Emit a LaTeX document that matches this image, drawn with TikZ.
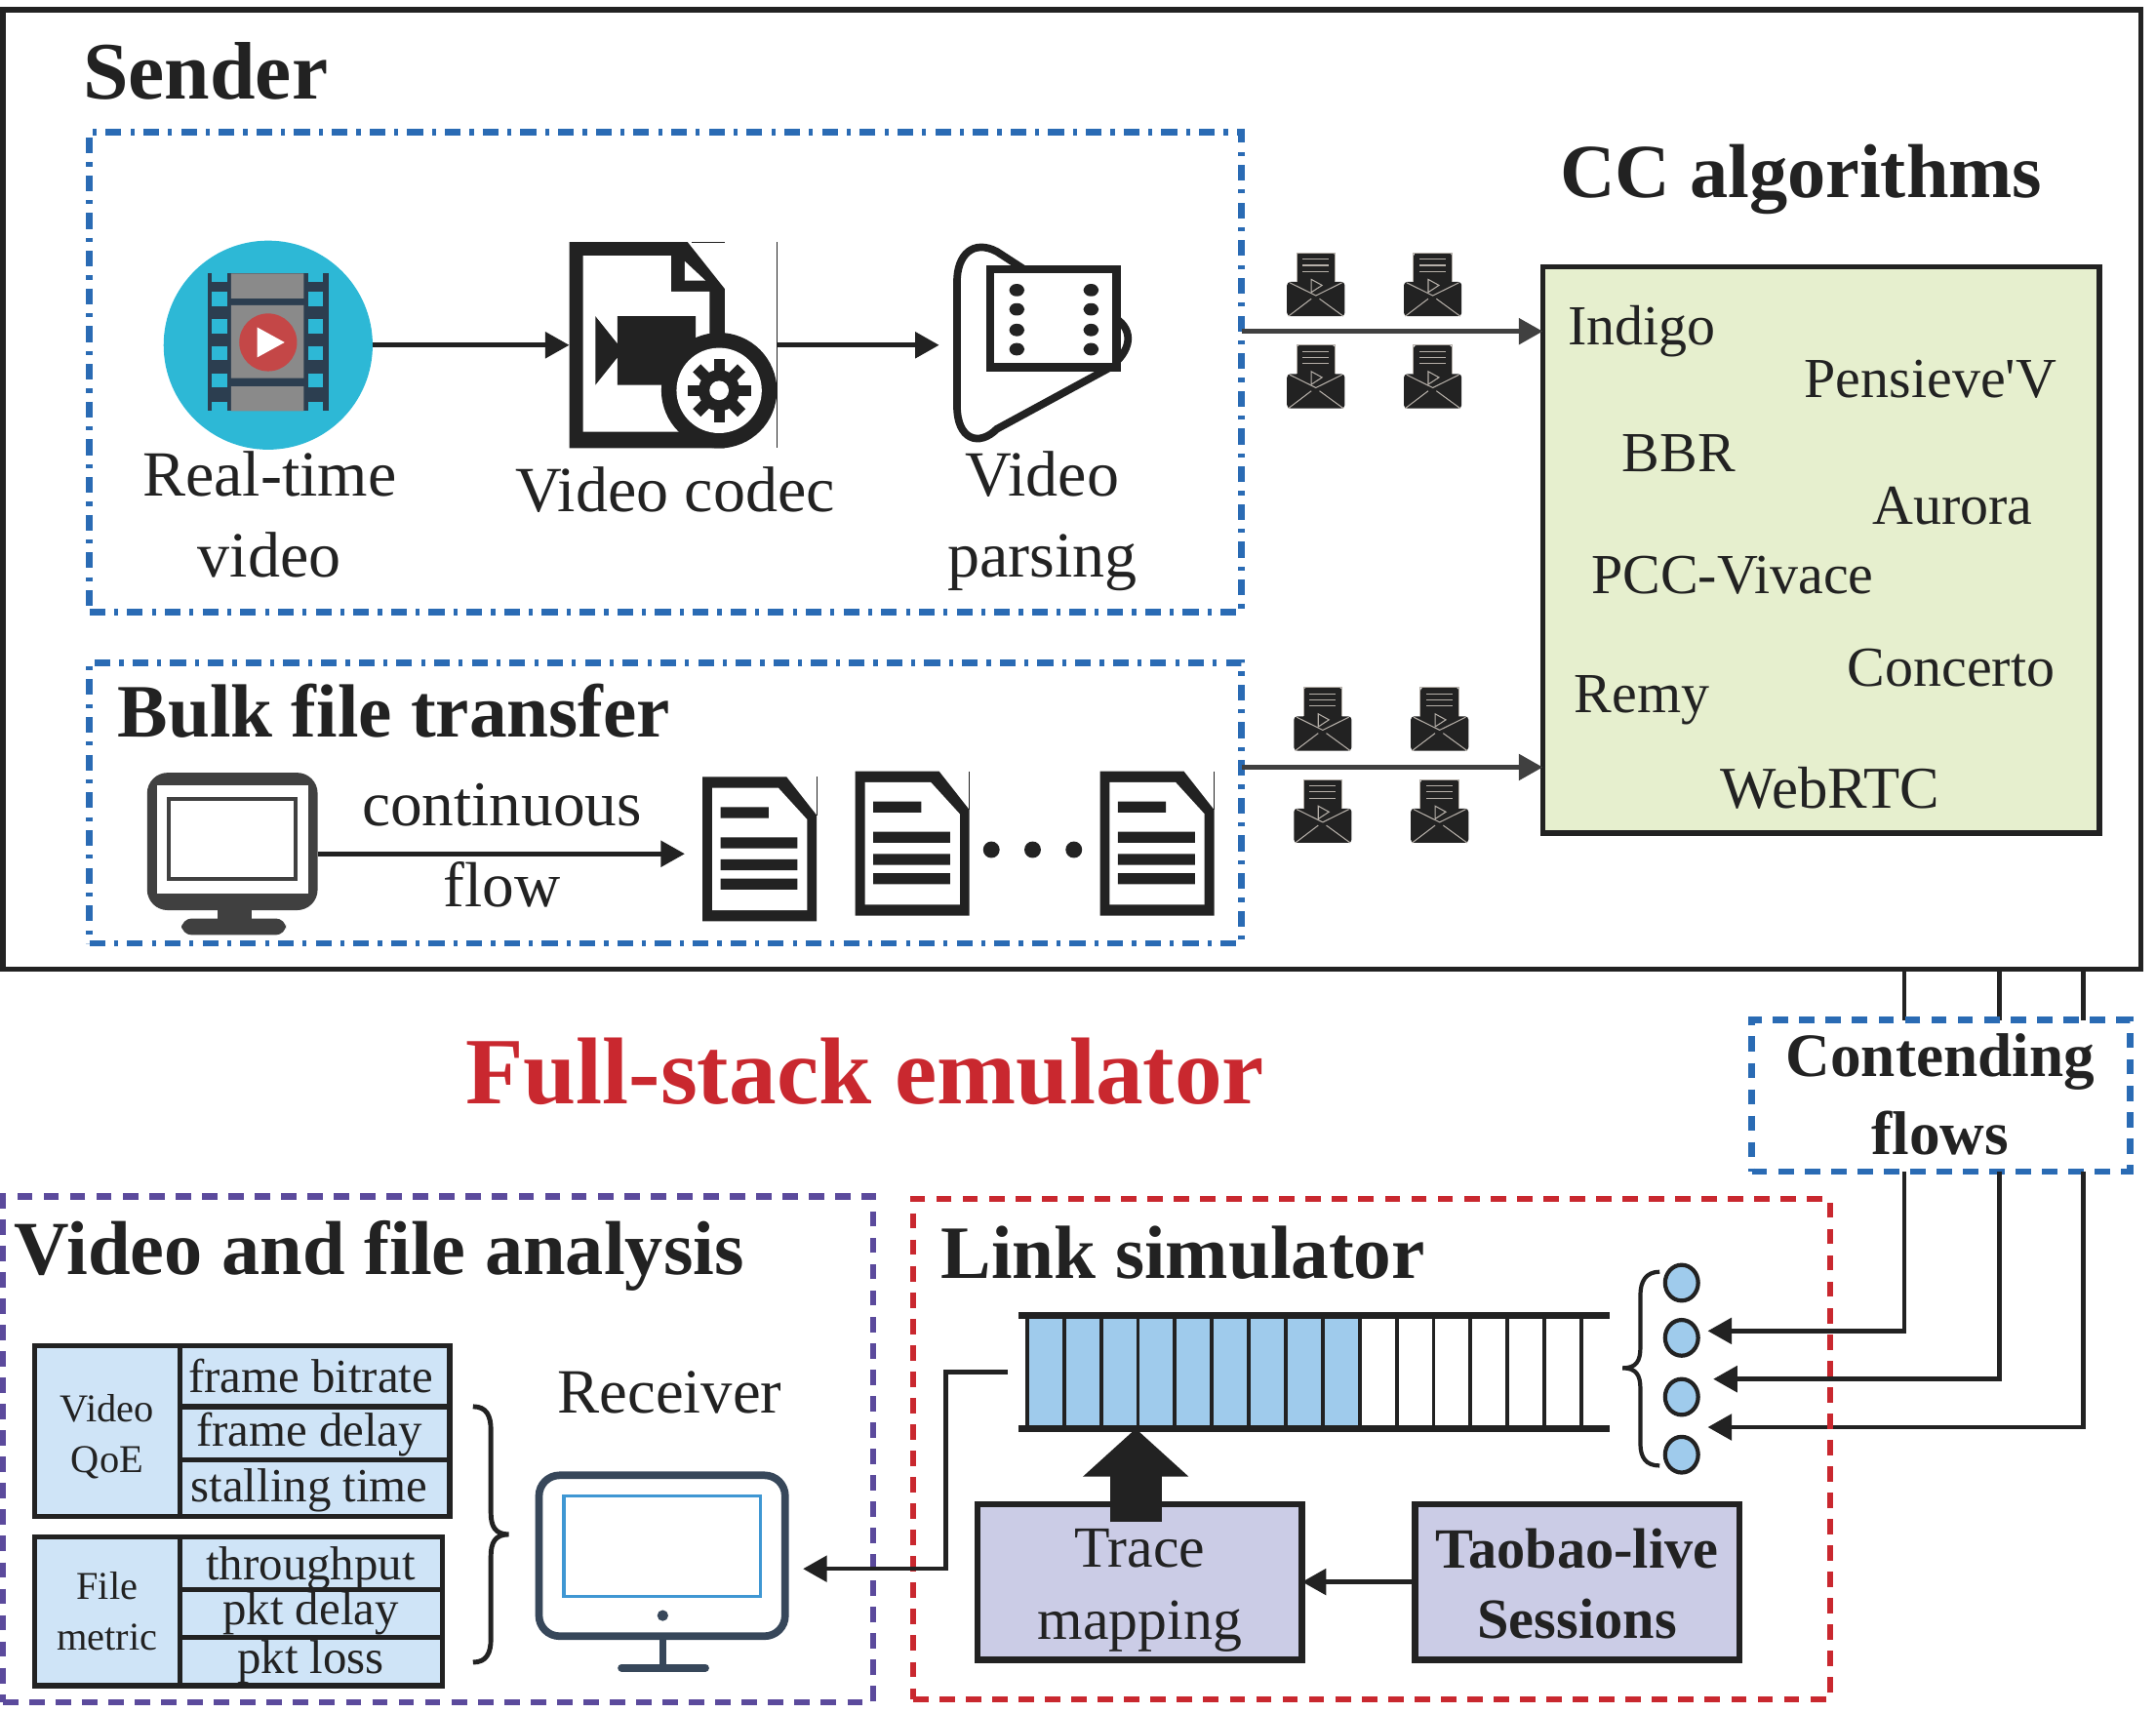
\documentclass[tikz,border=0pt]{standalone}
\usepackage{fontspec}
\setmainfont{Liberation Serif}
\newfontfamily\plainserif{Liberation Serif}
\usetikzlibrary{arrows.meta,fit}
\definecolor{ink}{HTML}{222222}
\definecolor{dashblue}{HTML}{2A6BB4}
\definecolor{dashpurple}{HTML}{5B4A9C}
\definecolor{alertred}{HTML}{C9282F}
\definecolor{cellblue}{HTML}{CFE4F7}
\definecolor{queueblue}{HTML}{9FCBEC}
\definecolor{lavender}{HTML}{CBCCE6}
\definecolor{ccgreen}{HTML}{E6EFCE}
\definecolor{screengray}{HTML}{404040}
\definecolor{navy}{HTML}{2C3E50}
\definecolor{slate}{HTML}{37475A}
\definecolor{filmcyan}{HTML}{2DB8D6}
\definecolor{filmgray}{HTML}{8A8A8A}
\definecolor{playred}{HTML}{C44747}
\definecolor{screenblue}{HTML}{3F97D3}
\definecolor{paleline}{HTML}{B5AFA8}
\tikzset{
  lbl/.style={inner sep=0pt,text=ink,align=center},
  bodytxt/.style={lbl,font=\fontsize{18.8pt}{23.7pt}\selectfont},
  cctxt/.style={lbl,anchor=base,font=\fontsize{16.5pt}{20pt}\selectfont},
  celltxt/.style={lbl,anchor=base,font=\fontsize{13.9pt}{16pt}\selectfont},
  sidetxt/.style={lbl,font=\fontsize{11.5pt}{14.6pt}\selectfont},
  headtxt/.style={lbl,anchor=base,font=\fontsize{22pt}{26pt}\selectfont\bfseries},
  spot/.style={inner sep=0pt,outer sep=0pt},
  dashdotbox/.style={spot,draw=dashblue,line width=1.9pt,dash pattern=on 4.6pt off 2.6pt on 1.2pt off 2.6pt},
  dashbox/.style={spot,line width=1.9pt,dash pattern=on 4.5pt off 3.2pt},
  solidbox/.style={spot,draw=ink,line width=1.6pt},
  flow/.style={draw=ink,line width=1.3pt,-{Triangle[length=7pt,width=7.5pt]}},
  wire/.style={draw=ink,line width=1.3pt},
  pics/envicon/.style={code={
    \fill[ink,rounded corners=1pt] (-14,-23) rectangle (14,5);
    \fill[ink,rounded corners=1pt] (-21,-2) rectangle (21,23);
    \draw[paleline,line width=.3pt] (-14,-2) -- (-14,-23) -- (14,-23) -- (14,-2);
    \draw[paleline,line width=.3pt] (-9.6,-18.5) -- (9.2,-18.5) (-9.6,-14) -- (9.2,-14) (-9.6,-9.6) -- (9.2,-9.6);
    \draw[paleline,line width=.3pt] (-3.3,-3.8) -- (-3.3,5.6) -- (4.5,.5) -- cycle;
    \draw[paleline,line width=.3pt] (-19,-1.4) -- (0,8) -- (19,-1.4) (-20,23) -- (-3.3,10.3) (20,23) -- (2.6,10.3);
  }},
  pics/docicon/.style={code={
    \fill[ink] (0,0) -- (61,0) -- (83,28) -- (83,105) -- (0,105) -- cycle;
    \fill[white] (7,8) -- (55,8) -- (76,31) -- (76,97) -- (7,97) -- cycle;
    \fill[ink] (13,22) rectangle (48,30) (13,44) rectangle (69,52) (13,60) rectangle (69,68) (13,74) rectangle (69,82);
    \draw[ink,line width=.3pt] (83,0) -- (83,28);
  }}
}
\begin{document}
\begin{tikzpicture}[x=0.0140944cm,y=-0.0140944cm]
\useasboundingbox (0,0) rectangle (1568,1245.2);
\node[solidbox,fit={(2,7) (1557,705)}] (sender) {};
\node[dashdotbox,fit={(65,96) (903,445)}] (videobox) {};
\node[dashdotbox,fit={(65,482) (903,686)}] (bulkbox) {};
\node[spot,fit={(119,175) (271,327)}] (film) {};
\node[spot,fit={(414,176) (565,326)}] (codec) {};
\node[spot,fit={(683,180) (822,322)}] (parsing) {};
\node[spot,fit={(107,562) (231,680)}] (sendpc) {};
\node[spot,fit={(498,573) (594,669)}] (firstdoc) {};
\node[lbl,anchor=base west,font=\fontsize{23.8pt}{28pt}\selectfont\bfseries] (sendertitle) at (60,72) {Sender};
\node[lbl,anchor=base,font=\fontsize{22.3pt}{26pt}\selectfont\bfseries] (cctitle) at (1310,144) {CC algorithms};
\node[bodytxt] (filmtxt) at (196,374) {Real-time\\video};
\node[bodytxt,anchor=base] (codectxt) at (491,372) {Video codec};
\node[bodytxt] (parsetxt) at (758,379) {Video\\parsing};
\node[headtxt,anchor=base west] (bulktxt) at (85,536) {Bulk file transfer};
\node[bodytxt,font=\fontsize{18.6pt}{23.7pt}\selectfont] (contxt) at (365,615) {continuous\\flow};
\node[lbl,anchor=base,text=alertred,font=\fontsize{27.7pt}{32pt}\selectfont\bfseries] (fulltxt) at (629,803) {Full-stack emulator};
% film icon
\fill[filmcyan] (195,251) circle [radius=76];
\fill[navy] (151,199) rectangle (239,299);
\fill[filmgray] (168,199) rectangle (221,217) (168,222) rectangle (221,275) (168,281) rectangle (221,299);
\foreach \y/\h in {199/205,212/223,232/243,252/262,272/282,292/299} {
  \fill[filmcyan] (154,\y) rectangle (165,\h);
  \fill[filmcyan] (224,\y) rectangle (235,\h);
}
\fill[playred] (195,249) circle [radius=21];
\fill[white] (187,238) -- (207,249) -- (187,260) -- cycle;
% codec icon
\fill[ink] (414,176) -- (500,176) -- (527,210) -- (527,326) -- (414,326) -- cycle;
\fill[white] (424,186) -- (488,186) -- (488,212) -- (516,212) -- (516,314) -- (424,314) -- cycle;
\fill[white] (498,190) -- (513,204) -- (498,204) -- cycle;
\fill[ink] (433,230) -- (449,250) -- (449,230) -- (506,230) -- (506,280) -- (449,280) -- (449,260) -- (433,280) -- cycle;
\fill[ink] (523,284) circle [radius=42];
\fill[white] (523,284) circle [radius=31];
\foreach \a in {0,45,...,315}
  \fill[ink,rotate around={\a:(523,284)}] (519,272) rectangle (527,261);
\fill[ink] (523,284) circle [radius=15];
\fill[white] (523,284) circle [radius=7];
\draw[ink,line width=.3pt] (565,176) -- (565,326) (503,176) -- (527,176);
% parsing icon
\draw[ink,line width=2.2pt] (745,196) -- (725,183) .. controls (708,174) and (696,185) .. (696,205) -- (696,295) .. controls (696,320) and (712,325) .. (725,312) -- (806,268) .. controls (824,255) and (824,240) .. (812,232);
\draw[ink,line width=2.4pt,fill=white] (720,196) rectangle (812,267);
\foreach \y in {211,225,240,254} {
  \fill[ink,rounded corners=2pt] (734,\y-4.5) rectangle (745,\y+4.5);
  \fill[ink,rounded corners=2pt] (788,\y-4.5) rectangle (799,\y+4.5);
}
% bulk file icons
\fill[screengray,rounded corners=6pt] (107,562) rectangle (231,662);
\fill[white] (114,571) rectangle (224,650);
\draw[screengray,line width=1.2pt] (123,581) rectangle (215,639);
\fill[screengray] (158,660) rectangle (183,670);
\fill[screengray,rounded corners=3pt] (132,668) rectangle (208,680);
\pic at (511,565) {docicon};
\pic at (622,561) {docicon};
\pic at (800,561) {docicon};
\foreach \x in {721,751,781} \fill[ink] (\x,618) circle [radius=6];
\foreach \x/\y in {957/207,1042/207,957/274,1042/274,962/523,1047/523,962/590,1047/590}
  \pic at (\x,\y) {envicon};
\draw[flow] (film.east) -- (codec.west);
\draw[flow] (codec.east) -- (parsing.west);
\draw[flow] (sendpc.east) -- (firstdoc.west);
% cc box
\node[solidbox,fill=ccgreen,fit={(1122,194) (1527,606)}] (ccbox) {};
\coordinate (vout) at (903,241);
\coordinate (bout) at (903,558);
\draw[flow,draw=screengray] (vout) -- (vout -| ccbox.west);
\draw[flow,draw=screengray] (bout) -- (bout -| ccbox.west);
\node[cctxt] (cca) at (1194,251) {Indigo};
\node[cctxt] (ccb) at (1404,289) {Pensieve{\plainserif'}V};
\node[cctxt] (ccc) at (1221,343) {BBR};
\node[cctxt] (ccd) at (1420,381) {Aurora};
\node[cctxt] (cce) at (1260,432) {PCC-Vivace};
\node[cctxt] (ccf) at (1419,499) {Concerto};
\node[cctxt] (ccg) at (1194,518) {Remy};
\node[cctxt,font=\fontsize{17.3pt}{20pt}\selectfont] (cch) at (1331,588) {WebRTC};
% contending flows
\coordinate (fa) at (1385,852);
\coordinate (fb) at (1454,852);
\coordinate (fc) at (1515,852);
\coordinate (ta) at (1385,742);
\coordinate (tb) at (1454,742);
\coordinate (tc) at (1515,742);
\foreach \f in {ta,tb,tc} \draw[wire] (sender.south -| \f) -- (\f);
\node[dashbox,draw=dashblue,fit={(1274,742) (1549,852)}] (contend) {};
\node[lbl,font=\fontsize{18pt}{22.6pt}\selectfont\bfseries] (contendtxt) at (1411,796) {Contending\\flows};
\coordinate (ina) at (1242,968);
\coordinate (inb) at (1246,1003);
\coordinate (inc) at (1242,1038);
\draw[flow] (fa) |- (ina);
\draw[flow] (fb) |- (inb);
\draw[flow] (fc) |- (inc);
% analysis box
\node[dashbox,draw=dashpurple,fit={(2,870) (635,1238)}] (analysis) {};
\node[headtxt,anchor=base west,font=\fontsize{22.3pt}{28pt}\selectfont\bfseries] (analysistxt) at (10,927) {Video and file analysis};
\fill[cellblue] (25,979) rectangle (327,1103);
\draw[ink,line width=1.5pt] (25,979) rectangle (327,1103) (131,979) -- (131,1103) (131,1023) -- (327,1023) (131,1062) -- (327,1062);
\fill[cellblue] (25,1118) rectangle (322,1226);
\draw[ink,line width=1.5pt] (25,1118) rectangle (322,1226) (131,1118) -- (131,1226) (131,1156) -- (322,1156) (131,1191) -- (322,1191);
\node[sidetxt] (qoetxt) at (78,1045) {Video\\QoE};
\node[sidetxt,font=\fontsize{11.5pt}{14.9pt}\selectfont] (filetxt) at (78,1172) {File\\metric};
\node[celltxt] (rowa) at (226,1013) {frame bitrate};
\node[celltxt] (rowb) at (225,1052) {frame delay};
\node[celltxt] (rowc) at (225,1092) {stalling time};
\node[celltxt] (rowd) at (226,1149) {throughput};
\node[celltxt] (rowe) at (226,1182) {pkt delay};
\node[celltxt] (rowf) at (226,1217) {pkt loss};
\draw[ink,line width=1.4pt] (344,1023) .. controls (354,1023) and (357,1030) .. (357,1040) -- (357,1100) .. controls (357,1110) and (360,1116) .. (370,1116) .. controls (360,1116) and (357,1122) .. (357,1132) -- (357,1192) .. controls (357,1202) and (354,1209) .. (344,1209);
\node[bodytxt,anchor=base,font=\fontsize{18.4pt}{23pt}\selectfont] (recvtxt) at (487,1028) {Receiver};
\node[spot,fit={(392,1073) (584,1209)}] (recv) {};
\draw[slate,line width=2.2pt,fill=white,rounded corners=6pt] (392,1073) rectangle (571,1190);
\draw[screenblue,line width=1pt] (410,1088) rectangle (553,1161);
\fill[slate] (482,1175) circle [radius=4];
\draw[slate,line width=2pt] (482,1192) -- (482,1213);
\draw[slate,line width=2.2pt,line cap=round] (452,1213) -- (513,1213);
% link box
\node[dashbox,draw=alertred,fit={(664,872) (1331,1236)}] (linkbox) {};
\node[headtxt,anchor=base west] (linktxt) at (684,930) {Link simulator};
\node[spot,fit={(733,957) (1171,1039)}] (queue) {};
\fill[queueblue] (747,957) rectangle (990,1039);
\foreach \i in {0,...,15} \draw[ink,line width=1.1pt] (747+\i*26.87,957) -- (747+\i*26.87,1039);
\draw[ink,line width=2pt] (741,957) -- (1171,957) (741,1039) -- (1171,1039);
\foreach \y in {933,973,1016,1058} \draw[ink,line width=1.2pt,fill=queueblue] (1223,\y) ellipse [x radius=12,y radius=13];
\draw[ink,line width=1.2pt] (1207,925) .. controls (1197,925) and (1193,932) .. (1193,942) -- (1193,980) .. controls (1193,990) and (1190,995) .. (1180,995) .. controls (1190,995) and (1193,1000) .. (1193,1010) -- (1193,1050) .. controls (1193,1060) and (1197,1066) .. (1207,1066);
\node[solidbox,line width=1.9pt,fill=lavender,fit={(711,1094) (947,1207)}] (trace) {};
\node[solidbox,line width=1.9pt,fill=lavender,fit={(1029,1094) (1265,1207)}] (taobao) {};
\node[lbl,font=\fontsize{17pt}{21pt}\selectfont] (tracetxt) at (829,1157) {Trace\\mapping};
\node[lbl,font=\fontsize{16.6pt}{20.5pt}\selectfont\bfseries] (taobaotxt) at (1147,1152) {Taobao-live\\Sessions};
\draw[flow] (taobao.west) -- (trace.east);
\coordinate (tracetail) at (826,1107);
\draw[ink,line width=15pt,-{Triangle[length=14pt,width=30pt]}] (tracetail) -- (tracetail |- queue.south);
\coordinate (bend) at (688,1141);
\draw[flow] (queue.west) -| (bend) -- (recv.east);
\end{tikzpicture}
\end{document}
